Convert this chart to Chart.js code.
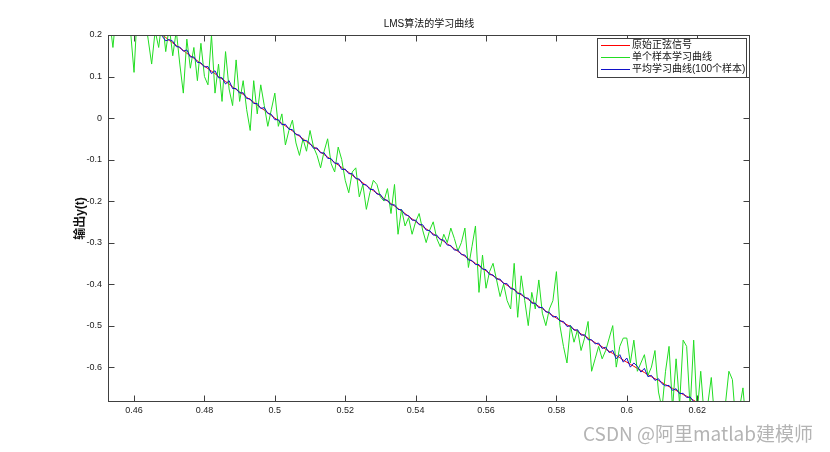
<!DOCTYPE html>
<html><head><meta charset="utf-8">
<script src="https://cdn.jsdelivr.net/npm/chart.js@4/dist/chart.umd.min.js"></script>
<style>html,body{margin:0;padding:0;background:#fff;overflow:hidden}</style>
</head><body>
<canvas id="c" width="830" height="452" style="display:block"></canvas>
<script>
const timeT = [
0.453,0.454,0.455,0.456,0.457,0.458,0.459,0.460,0.461,0.462,
0.463,0.464,0.465,0.466,0.467,0.468,0.469,0.470,0.471,0.472,
0.473,0.474,0.475,0.476,0.477,0.478,0.479,0.480,0.481,0.482,
0.483,0.484,0.485,0.486,0.487,0.488,0.489,0.490,0.491,0.492,
0.493,0.494,0.495,0.496,0.497,0.498,0.499,0.500,0.501,0.502,
0.503,0.504,0.505,0.506,0.507,0.508,0.509,0.510,0.511,0.512,
0.513,0.514,0.515,0.516,0.517,0.518,0.519,0.520,0.521,0.522,
0.523,0.524,0.525,0.526,0.527,0.528,0.529,0.530,0.531,0.532,
0.533,0.534,0.535,0.536,0.537,0.538,0.539,0.540,0.541,0.542,
0.543,0.544,0.545,0.546,0.547,0.548,0.549,0.550,0.551,0.552,
0.553,0.554,0.555,0.556,0.557,0.558,0.559,0.560,0.561,0.562,
0.563,0.564,0.565,0.566,0.567,0.568,0.569,0.570,0.571,0.572,
0.573,0.574,0.575,0.576,0.577,0.578,0.579,0.580,0.581,0.582,
0.583,0.584,0.585,0.586,0.587,0.588,0.589,0.590,0.591,0.592,
0.593,0.594,0.595,0.596,0.597,0.598,0.599,0.600,0.601,0.602,
0.603,0.604,0.605,0.606,0.607,0.608,0.609,0.610,0.611,0.612,
0.613,0.614,0.615,0.616,0.617,0.618,0.619,0.620,0.621,0.622,
0.623,0.624,0.625,0.626,0.627,0.628,0.629,0.630,0.631,0.632,
0.633,0.634,0.635];

const originalSignal = [
0.291,0.285,0.279,0.273,0.267,0.261,0.255,0.249,0.243,0.237,
0.230,0.224,0.218,0.212,0.206,0.200,0.194,0.187,0.181,0.175,
0.169,0.163,0.156,0.150,0.144,0.138,0.131,0.125,0.119,0.113,
0.107,0.100,0.094,0.088,0.082,0.075,0.069,0.063,0.057,0.050,
0.044,0.038,0.031,0.025,0.019,0.013,0.006,0,-0.006,-0.013,
-0.019,-0.025,-0.031,-0.038,-0.044,-0.050,-0.057,-0.063,-0.069,-0.075,
-0.082,-0.088,-0.094,-0.100,-0.107,-0.113,-0.119,-0.125,-0.131,-0.138,
-0.144,-0.150,-0.156,-0.163,-0.169,-0.175,-0.181,-0.187,-0.194,-0.200,
-0.206,-0.212,-0.218,-0.224,-0.230,-0.237,-0.243,-0.249,-0.255,-0.261,
-0.267,-0.273,-0.279,-0.285,-0.291,-0.297,-0.303,-0.309,-0.315,-0.321,
-0.327,-0.333,-0.339,-0.345,-0.350,-0.356,-0.362,-0.368,-0.374,-0.380,
-0.385,-0.391,-0.397,-0.403,-0.408,-0.414,-0.420,-0.426,-0.431,-0.437,
-0.443,-0.448,-0.454,-0.459,-0.465,-0.471,-0.476,-0.482,-0.487,-0.493,
-0.498,-0.503,-0.509,-0.514,-0.520,-0.525,-0.530,-0.536,-0.541,-0.546,
-0.551,-0.557,-0.562,-0.567,-0.572,-0.577,-0.583,-0.588,-0.593,-0.598,
-0.603,-0.608,-0.613,-0.618,-0.623,-0.628,-0.632,-0.637,-0.642,-0.647,
-0.651,-0.656,-0.661,-0.666,-0.670,-0.675,-0.680,-0.685,-0.689,-0.693,
-0.698,-0.702,-0.707,-0.711,-0.716,-0.720,-0.724,-0.729,-0.733,-0.737,
-0.741,-0.745,-0.749];

const singleSample = [
0.24,0.17,0.26,0.31,0.22,0.29,0.21,0.11,0.27,0.30,
0.25,0.19,0.13,0.21,0.17,0.24,0.16,0.22,0.15,0.21,
0.13,0.06,0.19,0.12,0.17,0.09,0.18,0.10,0.08,0.20,
0.06,0.13,0.04,0.16,0.07,0.03,0.14,0.04,0.09,0.02,
-0.03,0.09,0.01,0.08,0.03,-0.02,0.02,0.06,-0.02,0.01,
-0.065,-0.03,-0.005,-0.06,-0.09,-0.05,-0.08,-0.03,-0.07,-0.09,
-0.12,-0.08,-0.05,-0.11,-0.13,-0.07,-0.10,-0.15,-0.18,-0.13,
-0.12,-0.19,-0.16,-0.22,-0.18,-0.15,-0.16,-0.19,-0.20,-0.17,
-0.23,-0.16,-0.28,-0.22,-0.26,-0.24,-0.28,-0.25,-0.23,-0.27,
-0.30,-0.27,-0.25,-0.29,-0.31,-0.28,-0.30,-0.265,-0.29,-0.32,
-0.30,-0.265,-0.36,-0.31,-0.26,-0.42,-0.33,-0.41,-0.37,-0.35,
-0.39,-0.43,-0.40,-0.44,-0.46,-0.35,-0.48,-0.38,-0.44,-0.50,
-0.42,-0.46,-0.39,-0.47,-0.50,-0.46,-0.44,-0.37,-0.50,-0.55,
-0.59,-0.50,-0.54,-0.51,-0.56,-0.53,-0.49,-0.61,-0.58,-0.55,
-0.58,-0.56,-0.53,-0.50,-0.60,-0.55,-0.53,-0.53,-0.59,-0.535,
-0.61,-0.59,-0.57,-0.62,-0.60,-0.56,-0.66,-0.70,-0.61,-0.55,
-0.70,-0.58,-0.69,-0.535,-0.55,-0.70,-0.535,-0.71,-0.61,-0.72,
-0.69,-0.625,-0.73,-0.70,-0.72,-0.69,-0.61,-0.63,-0.74,-0.70,
-0.65,-0.75,-0.67];

const averageCurve = [
0.296,0.281,0.287,0.267,0.270,0.254,0.261,0.247,0.250,0.232,
0.234,0.218,0.223,0.208,0.209,0.197,0.186,0.189,0.185,0.172,
0.171,0.161,0.164,0.147,0.147,0.134,0.133,0.123,0.124,0.107,
0.114,0.097,0.097,0.082,0.090,0.071,0.071,0.060,0.061,0.047,
0.046,0.035,0.035,0.023,0.025,0.011,0.009,-0.004,-0.004,-0.016,
-0.015,-0.027,-0.028,-0.040,-0.041,-0.054,-0.054,-0.061,-0.073,-0.072,
-0.084,-0.084,-0.097,-0.098,-0.109,-0.109,-0.124,-0.123,-0.134,-0.134,
-0.146,-0.147,-0.160,-0.161,-0.172,-0.172,-0.183,-0.184,-0.197,-0.198,
-0.209,-0.209,-0.220,-0.221,-0.233,-0.235,-0.246,-0.246,-0.257,-0.257,
-0.270,-0.271,-0.282,-0.282,-0.293,-0.294,-0.306,-0.307,-0.318,-0.318,
-0.329,-0.330,-0.342,-0.343,-0.353,-0.353,-0.364,-0.365,-0.377,-0.378,
-0.388,-0.388,-0.399,-0.399,-0.411,-0.412,-0.423,-0.423,-0.433,-0.434,
-0.446,-0.446,-0.457,-0.456,-0.467,-0.468,-0.479,-0.478,-0.489,-0.490,
-0.502,-0.500,-0.511,-0.510,-0.523,-0.522,-0.534,-0.534,-0.544,-0.542,
-0.555,-0.552,-0.565,-0.560,-0.580,-0.570,-0.588,-0.578,-0.600,-0.590,
-0.598,-0.612,-0.603,-0.623,-0.620,-0.632,-0.628,-0.640,-0.645,-0.644,
-0.656,-0.652,-0.664,-0.663,-0.673,-0.672,-0.683,-0.684,-0.692,-0.694,
-0.700,-0.703,-0.709,-0.710,-0.718,-0.719,-0.726,-0.728,-0.735,-0.736,
-0.743,-0.744,-0.751];

const xTicks = [0.46,0.48,0.5,0.52,0.54,0.56,0.58,0.6,0.62];
const yTicks = [0.2,0.1,0,-0.1,-0.2,-0.3,-0.4,-0.5,-0.6];
const seriesNames = ['原始正弦信号','单个样本学习曲线','平均学习曲线(100个样本)'];
const seriesColors = ['#ff0000','#22dd22','#1010c8'];
const titleText = 'LMS算法的学习曲线';
const yTitleText = '输出y(t)';
const watermarkText = 'CSDN @阿里matlab建模师';

const FONT = "'Liberation Sans', 'Noto Sans CJK SC', sans-serif";
const pts = ys => timeT.map((t, i) => ({x: t, y: ys[i]}));

const framePlugin = {
  id: 'frame',
  afterDraw(chart) {
    const ctx = chart.ctx, a = chart.chartArea;
    const xs = chart.scales.x, ys = chart.scales.y;
    ctx.save();
    ctx.strokeStyle = '#404040';
    ctx.lineWidth = 1;
    const L = Math.round(a.left) + 0.5, R = Math.round(a.right) - 0.5;
    const T = Math.round(a.top) + 0.5, B = Math.round(a.bottom) - 0.5;
    ctx.strokeRect(L, T, R - L, B - T);
    const tl = 6;
    ctx.beginPath();
    xTicks.forEach(v => {
      const px = Math.round(xs.getPixelForValue(v)) + 0.5;
      ctx.moveTo(px, B); ctx.lineTo(px, B - tl);
      ctx.moveTo(px, T); ctx.lineTo(px, T + tl);
    });
    yTicks.forEach(v => {
      const py = Math.round(ys.getPixelForValue(v)) + 0.5;
      ctx.moveTo(L, py); ctx.lineTo(L + tl, py);
      ctx.moveTo(R, py); ctx.lineTo(R - tl, py);
    });
    ctx.stroke();
    ctx.fillStyle = '#111';
    ctx.font = "10px " + FONT;
    ctx.textAlign = 'center';
    ctx.textBaseline = 'middle';
    ctx.fillText(titleText, (a.left + a.right) / 2, 24);
    const lx = 597.5, ly = 38.5, lw = 149, lh = 39;
    ctx.fillStyle = '#fff';
    ctx.fillRect(lx, ly, lw, lh);
    ctx.strokeStyle = '#404040';
    ctx.strokeRect(lx, ly, lw, lh);
    ctx.textAlign = 'left';
    ctx.font = "10px " + FONT;
    seriesNames.forEach((name, i) => {
      const yy = 45 + i * 12;
      ctx.fillStyle = seriesColors[i];
      ctx.fillRect(601, yy, 29, 1);
      ctx.fillStyle = '#111';
      ctx.fillText(name, 632, yy + 0.5);
    });
    ctx.font = "19px 'Noto Sans CJK SC', sans-serif";
    ctx.fillStyle = '#b4b4b4';
    ctx.textAlign = 'left';
    ctx.textBaseline = 'alphabetic';
    ctx.fillText(watermarkText, 583, 441);
    ctx.restore();
  }
};

const common = {borderWidth: 1, pointRadius: 0, tension: 0, clip: 0, fill: false};
new Chart(document.getElementById('c'), {
  type: 'line',
  data: {datasets: [
    Object.assign({label: seriesNames[0], data: pts(originalSignal), borderColor: seriesColors[0], order: 3}, common),
    Object.assign({label: seriesNames[1], data: pts(singleSample), borderColor: seriesColors[1], order: 2}, common),
    Object.assign({label: seriesNames[2], data: pts(averageCurve), borderColor: seriesColors[2], order: 1}, common)
  ]},
  options: {
    responsive: false, animation: false, devicePixelRatio: 1,
    layout: {padding: {left: 0, right: 80, top: 35, bottom: 30}},
    plugins: {legend: {display: false}, tooltip: {enabled: false}, title: {display: false}},
    scales: {
      x: {
        type: 'linear', min: 0.4526, max: 0.635,
        afterBuildTicks: s => { s.ticks = xTicks.map(v => ({value: v})); },
        afterFit: s => { s.height = 20; },
        grid: {display: false, drawTicks: false}, border: {display: false},
        ticks: {font: {family: FONT, size: 9}, color: '#222', padding: 3, maxRotation: 0, autoSkip: false,
                callback: v => String(v)}
      },
      y: {
        type: 'linear', min: -0.684, max: 0.2,
        afterBuildTicks: s => { s.ticks = yTicks.map(v => ({value: v})); },
        afterFit: s => { s.width = 108; },
        grid: {display: false, drawTicks: false}, border: {display: false},
        ticks: {font: {family: FONT, size: 9}, color: '#222', padding: 6, autoSkip: false,
                callback: v => String(v)},
        title: {display: true, text: yTitleText, color: '#111',
                font: {family: FONT, size: 12, weight: 'bold'}, padding: {top: 73, bottom: 0}}
      }
    }
  },
  plugins: [framePlugin]
});
</script>
</body></html>
